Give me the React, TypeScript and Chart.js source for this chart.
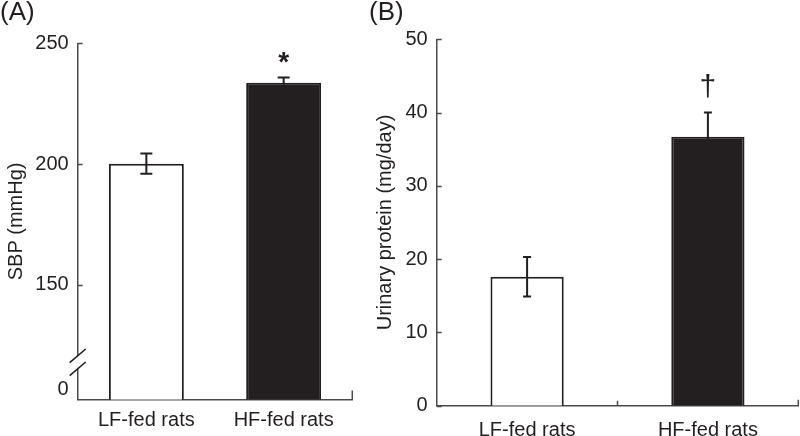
import React, { useEffect, useRef } from 'react';
import { Chart, registerables } from 'chart.js';

Chart.register(...registerables);

// ---------- data ----------
const categories = ['LF-fed rats', 'HF-fed rats'];

// Panel A: systolic blood pressure (broken axis, 0 shown at bottom)
const sbpMeans = [200.2, 233.7];
const sbpErrors = [4.2, 2.1];
const sbpTicks = [150, 200, 250];
const sbpMarkers = ['', '*'];

// Panel B: urinary protein
const proteinMeans = [17.6, 36.7];
const proteinErrors = [2.7, 3.3];
const proteinTicks = [0, 10, 20, 30, 40, 50];
const proteinMarkers = ['', '\u2020'];

// ---------- style ----------
const FONT = '"Liberation Sans", Arial, Helvetica, sans-serif';
const INK = '#231f20';
const AXIS = '#4a4a4a';

type Panel = {
  tag: string;
  yTitle: string;
  means: number[];
  errors: number[];
  ticks: number[];
  markers: string[];
  min: number;
  max: number;
  zeroLabelAt?: number;
  breakAt?: number;
  left: number;
  width: number;
  padTop: number;
  padRight: number;
  yWidth: number;
  xHeight: number;
  xLabelPad: number;
  yTitlePad: number;
  capHalf: number;
  barPct: number;
  markerFont: string;
  markerGap: number;
  endTickLen: number;
  midTick: boolean;
};

const panels: Panel[] = [
  {
    tag: '(A)',
    yTitle: 'SBP (mmHg)',
    means: sbpMeans,
    errors: sbpErrors,
    ticks: sbpTicks,
    markers: sbpMarkers,
    min: 102.6,
    max: 250,
    zeroLabelAt: 106.6,
    breakAt: 118,
    left: 0,
    width: 370,
    padTop: 43.3,
    padRight: 17.7,
    yWidth: 77.7,
    xHeight: 36.5,
    xLabelPad: 8.5,
    yTitlePad: 4,
    capHalf: 6,
    barPct: 0.546,
    markerFont: 'bold 28px ' + FONT,
    markerGap: 7,
    endTickLen: 9,
    midTick: false,
  },
  {
    tag: '(B)',
    yTitle: 'Urinary protein (mg/day)',
    means: proteinMeans,
    errors: proteinErrors,
    ticks: proteinTicks,
    markers: proteinMarkers,
    min: 0,
    max: 50,
    left: 365,
    width: 435,
    padTop: 39.3,
    padRight: 1.7,
    yWidth: 71.7,
    xHeight: 30.3,
    xLabelPad: 12.3,
    yTitlePad: 8,
    capHalf: 4,
    barPct: 0.405,
    markerFont: '30px ' + FONT,
    markerGap: 17,
    endTickLen: 6,
    midTick: true,
  },
];

function makeDecorations(p: Panel) {
  return {
    id: 'decor' + p.tag,
    afterDraw(chart: any) {
      const ctx = chart.ctx as CanvasRenderingContext2D;
      const y = chart.scales.y;
      const area = chart.chartArea;
      const meta = chart.getDatasetMeta(0);
      ctx.save();

      // error bars + significance markers
      ctx.fillStyle = INK;
      ctx.lineWidth = 2;
      p.means.forEach((m, i) => {
        const x = meta.data[i].x;
        const top = y.getPixelForValue(m + p.errors[i]);
        const bot = y.getPixelForValue(m - p.errors[i]);
        ctx.strokeStyle = INK;
        ctx.beginPath();
        ctx.moveTo(x, top);
        ctx.lineTo(x, bot);
        ctx.moveTo(x - p.capHalf, top);
        ctx.lineTo(x + p.capHalf, top);
        ctx.moveTo(x - p.capHalf, bot);
        ctx.lineTo(x + p.capHalf, bot);
        ctx.stroke();
        if (p.markers[i]) {
          ctx.font = p.markerFont;
          ctx.textAlign = 'center';
          ctx.textBaseline = 'alphabetic';
          ctx.fillText(p.markers[i], x, top - p.markerGap);
        }
      });

      // inward tick marks
      ctx.strokeStyle = AXIS;
      ctx.lineWidth = 1.5;
      ctx.beginPath();
      p.ticks.forEach((v) => {
        const py = Math.round(y.getPixelForValue(v)) + 0.5;
        ctx.moveTo(area.left, py);
        ctx.lineTo(area.left + 5, py);
      });
      ctx.moveTo(area.right, area.bottom);
      ctx.lineTo(area.right, area.bottom - p.endTickLen);
      if (p.midTick) {
        const mx = (meta.data[0].x + meta.data[1].x) / 2;
        ctx.moveTo(mx, area.bottom);
        ctx.lineTo(mx, area.bottom - 5);
      }
      ctx.stroke();

      // axis break
      if (p.breakAt !== undefined) {
        const yb = y.getPixelForValue(p.breakAt);
        ctx.fillStyle = '#ffffff';
        ctx.fillRect(area.left - 2, yb - 6.5, 4, 13);
        ctx.strokeStyle = INK;
        ctx.lineWidth = 1.6;
        ctx.beginPath();
        ctx.moveTo(area.left - 8, yb + 0.3);
        ctx.lineTo(area.left + 8, yb - 13.3);
        ctx.moveTo(area.left - 8, yb + 13.3);
        ctx.lineTo(area.left + 8, yb - 0.3);
        ctx.stroke();
      }

      // panel tag
      ctx.fillStyle = INK;
      ctx.font = '26px ' + FONT;
      ctx.textAlign = 'left';
      ctx.textBaseline = 'middle';
      ctx.fillText(p.tag, p.tag === '(A)' ? 0 : 4, 12.5);
      ctx.restore();
    },
  };
}

function PanelChart({ p }: { p: Panel }) {
  const ref = useRef<HTMLCanvasElement | null>(null);
  useEffect(() => {
    if (!ref.current) return;
    const chart = new Chart(ref.current, {
      type: 'bar',
      data: {
        labels: categories,
        datasets: [
          {
            data: p.means,
            backgroundColor: ['#ffffff', INK],
            borderColor: INK,
            borderWidth: 2,
            categoryPercentage: 1,
            barPercentage: p.barPct,
          },
        ],
      },
      options: {
        responsive: false,
        animation: false,
        devicePixelRatio: 1,
        layout: { padding: { left: 0, top: p.padTop, right: p.padRight, bottom: 0 } },
        plugins: { legend: { display: false }, tooltip: { enabled: false }, title: { display: false } },
        scales: {
          x: {
            grid: { display: false, drawTicks: false },
            border: { display: true, color: AXIS, width: 1.5 },
            ticks: { color: INK, font: { family: FONT, size: 20 }, padding: p.xLabelPad, maxRotation: 0 },
            afterFit: (s: any) => {
              s.height = p.xHeight;
            },
          },
          y: {
            min: p.min,
            max: p.max,
            bounds: 'data',
            grid: { display: false, drawTicks: false },
            border: { display: true, color: AXIS, width: 1.5 },
            ticks: {
              color: INK,
              font: { family: FONT, size: 20 },
              padding: 9,
              callback: (v: any) => (p.zeroLabelAt !== undefined && Math.abs(v - p.zeroLabelAt) < 1e-6 ? '0' : String(v)),
            },
            afterBuildTicks: (s: any) => {
              const vals = p.zeroLabelAt !== undefined ? [p.zeroLabelAt, ...p.ticks] : p.ticks;
              s.ticks = vals.map((v) => ({ value: v }));
            },
            afterFit: (s: any) => {
              s.width = p.yWidth;
            },
            title: {
              display: true,
              text: p.yTitle,
              color: INK,
              font: { family: FONT, size: 20 },
              padding: { top: p.yTitlePad, bottom: 0 },
            },
          },
        },
      } as any,
      plugins: [makeDecorations(p)],
    });
    return () => chart.destroy();
  }, [p]);
  return (
    <canvas
      ref={ref}
      width={p.width}
      height={436}
      style={{ position: 'absolute', left: p.left, top: 0, width: p.width, height: 436 }}
    />
  );
}

export default function App() {
  return (
    <div style={{ position: 'absolute', left: 0, top: 0, width: 800, height: 436, background: '#ffffff', overflow: 'hidden' }}>
      {panels.map((p) => (
        <PanelChart key={p.tag} p={p} />
      ))}
    </div>
  );
}
